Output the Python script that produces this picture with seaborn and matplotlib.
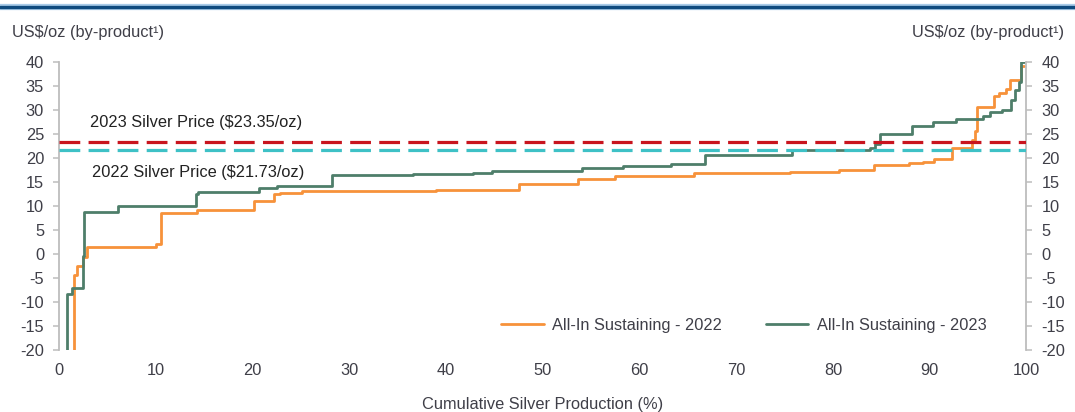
import numpy as np
import pandas as pd
import matplotlib
matplotlib.use("Agg")
import matplotlib.pyplot as plt
from matplotlib.lines import Line2D
import seaborn as sns

# Cumulative silver production (%) at which each producer's block starts,
# with its all-in sustaining cost (US$/oz, by-product basis)
cum_2022 = [0.0, 1.5, 1.86, 2.4, 2.9, 10.0, 10.5, 14.2, 20.1, 22.2, 22.8, 25.1,
            39.0, 47.5, 53.6, 57.5, 65.6, 75.6, 80.6, 84.2, 87.9, 89.3, 90.5,
            92.3, 94.4, 94.7, 94.9, 96.7, 97.2, 97.9, 98.3, 99.5]
aisc_2022 = [-45, -4.4, -2.5, -0.7, 1.5, 2.1, 8.45, 9.25, 11.05, 12.4, 12.7, 13.1,
             13.3, 14.6, 15.7, 16.3, 16.9, 17.15, 17.45, 18.5, 18.9, 19.2, 19.7,
             22.1, 23.8, 25.5, 30.6, 32.8, 33.5, 34.4, 36.2, 39.2]
end_2022 = 99.8

cum_2023 = [0.0, 0.77, 1.34, 2.42, 2.59, 6.1, 14.1, 14.3, 20.65, 22.5, 28.2, 36.6,
            42.8, 44.7, 54.1, 58.3, 63.3, 66.8, 75.8, 83.8, 84.4, 84.9, 88.2,
            90.4, 92.7, 95.5, 96.2, 97.5, 98.4, 98.8, 99.2, 99.5]
aisc_2023 = [-45, -8.4, -6.96, -0.4, 8.65, 10.05, 12.6, 12.9, 13.8, 14.1, 16.5, 16.7,
             16.9, 17.3, 17.9, 18.4, 18.7, 20.6, 21.6, 22.0, 23.0, 24.9, 26.7,
             27.4, 28.1, 28.8, 29.5, 30.0, 32.0, 34.1, 35.7, 39.9]
end_2023 = 99.8

series_labels = ["All-In Sustaining - 2022", "All-In Sustaining - 2023"]
price_2023 = 23.35
price_2022 = 21.73
price_labels = ["2023 Silver Price ($23.35/oz)", "2022 Silver Price ($21.73/oz)"]
y_ticks = list(range(-20, 41, 5))
x_ticks = list(range(0, 101, 10))
y_title = "US$/oz (by-product\u00b9)"
x_title = "Cumulative Silver Production (%)"

ORANGE = "#F7923A"
GREEN = "#4E7E6A"
RED = "#C8141E"
TEAL = "#3EC1C6"
TXT = "#3F3F48"
AXC = "#BDBDBD"
FS = 11.8

sns.set_style("white")
plt.rcParams["font.family"] = ["Liberation Sans", "DejaVu Sans"]
plt.rcParams["axes.unicode_minus"] = False

# long-form table; each curve closes at the end of its last block
frames = []
for cum, cost, end, lab in [(cum_2022, aisc_2022, end_2022, series_labels[0]),
                            (cum_2023, aisc_2023, end_2023, series_labels[1])]:
    xs = list(cum) + [end]
    ys = list(cost) + [cost[-1]]
    frames.append(pd.DataFrame({"cum": xs, "aisc": ys, "series": lab}))
df = pd.concat(frames, ignore_index=True)

fig = plt.figure(figsize=(10.75, 4.12), dpi=100)
ax = fig.add_axes([0.0552, 0.150, 0.8995, 0.700])

sns.lineplot(data=df, x="cum", y="aisc", hue="series",
             palette={series_labels[0]: ORANGE, series_labels[1]: GREEN},
             estimator=None, sort=False, drawstyle="steps-post",
             linewidth=2.0, ax=ax, legend=False)

ax.axhline(price_2023, color=RED, lw=2.3, dashes=(6.5, 2.6), zorder=3)
ax.axhline(price_2022, color=TEAL, lw=2.3, dashes=(6.5, 2.6), zorder=3)

ax.text(3.2, 27.45, price_labels[0], fontsize=FS, color="#222222", va="center", ha="left")
ax.text(3.4, 17.05, price_labels[1], fontsize=FS, color="#222222", va="center", ha="left")

ax.set_xlim(0, 100)
ax.set_ylim(-20, 40)
ax.set_xticks(x_ticks)
ax.set_yticks(y_ticks)
ax.set_xlabel(x_title, fontsize=FS, color=TXT, labelpad=14)
ax.set_ylabel("")

for s in ["top", "bottom"]:
    ax.spines[s].set_visible(False)
for s in ["left", "right"]:
    ax.spines[s].set_visible(True)
    ax.spines[s].set_color(AXC)
    ax.spines[s].set_linewidth(1.3)

ax.yaxis.set_ticks_position("both")
ax.tick_params(axis="y", which="both", left=True, right=True, labelleft=True,
               labelright=True, length=4, width=1.1, color=AXC,
               labelsize=FS, labelcolor=TXT, pad=7)
ax.tick_params(axis="x", length=0, labelsize=FS, labelcolor=TXT, pad=9)

handles = [Line2D([0], [0], color=ORANGE, lw=2.0), Line2D([0], [0], color=GREEN, lw=2.0)]
ax.legend(handles, series_labels, loc="lower right", bbox_to_anchor=(0.974, 0.008),
          ncol=2, frameon=False, fontsize=FS, handlelength=2.6, columnspacing=2.7,
          handletextpad=0.5, labelcolor=TXT)

fig.text(0.011, 0.922, y_title, fontsize=FS, color=TXT, ha="left", va="center")
fig.text(0.990, 0.922, y_title, fontsize=FS, color=TXT, ha="right", va="center")

# header rule across the top
fig.add_artist(Line2D([0, 1], [0.984, 0.984], transform=fig.transFigure,
                      color="#A9CBE8", lw=4.5))
fig.add_artist(Line2D([0, 1], [0.984, 0.984], transform=fig.transFigure,
                      color="#0E4A7E", lw=2.4))

fig.savefig("out.png", dpi=100, facecolor="white")
